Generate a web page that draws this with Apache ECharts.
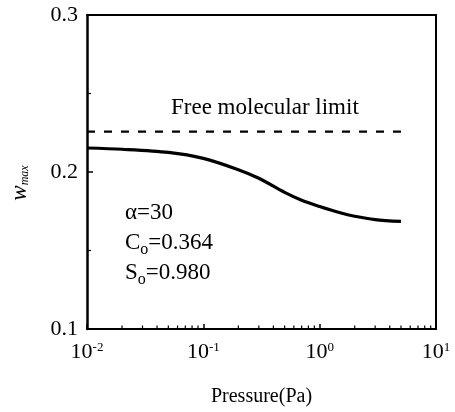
<!DOCTYPE html>
<html>
<head>
<meta charset="utf-8">
<script src="https://cdn.jsdelivr.net/npm/echarts@6/dist/echarts.min.js"></script>
<style>
  html, body { margin: 0; padding: 0; background: #fff; }
  #chart { width: 455px; height: 412px; }
</style>
</head>
<body>
<div id="chart"></div>
<script>
// Pressure (Pa) and the corresponding maximum w
const pressure = [0.01, 0.02, 0.05, 0.1, 0.2, 0.3, 0.5, 0.7, 1.0, 1.5, 2.0, 3.0, 5.0];
const wMax     = [0.2153, 0.2145, 0.2125, 0.2087, 0.2015, 0.1960, 0.1870, 0.1820, 0.1780, 0.1740, 0.1718, 0.1697, 0.1685];

// Free molecular limit (horizontal reference)
const limitPressure = [0.01, 5.0];
const limitValue    = [0.2257, 0.2257];

// Axis settings
const xMin = 0.01, xMax = 10;
const yMin = 0.1, yMax = 0.3, yStep = 0.1;
const xExponents = { '0.01': '-2', '0.1': '-1', '1': '0', '10': '1' };

// Minor log ticks (2..9 in each decade)
const minorDecades = [0.01, 0.1, 1];
const minorMultipliers = [2, 3, 4, 5, 6, 7, 8, 9];

const serif = "'Liberation Serif', 'Times New Roman', serif";

const minorTickData = [];
minorDecades.forEach(d => minorMultipliers.forEach(m => minorTickData.push([d * m, yMin])));

const chart = echarts.init(document.getElementById('chart'), null, { renderer: 'canvas' });

chart.setOption({
  animation: false,
  backgroundColor: '#fff',
  grid: { left: 81, right: 19, top: 15, bottom: 80, containLabel: false },
  xAxis: [
    {
      type: 'log',
      logBase: 10,
      min: xMin,
      max: xMax,
      position: 'bottom',
      name: 'Pressure(Pa)',
      nameLocation: 'middle',
      nameGap: 58,
      nameTextStyle: { fontFamily: serif, fontSize: 20, color: '#000' },
      axisLine: { show: true, onZero: false, lineStyle: { color: '#000', width: 2 } },
      axisTick: { show: true, inside: true, length: 5, lineStyle: { color: '#000', width: 1.5 } },
      splitLine: { show: false },
      axisLabel: {
        margin: 12,
        formatter: function (v) {
          const key = String(+v.toPrecision(3));
          return '{b|10}{s|' + (xExponents[key] || '') + '}';
        },
        rich: {
          b: { fontFamily: serif, fontSize: 22, color: '#000', lineHeight: 22 },
          s: { fontFamily: serif, fontSize: 13, color: '#000', verticalAlign: 'top', lineHeight: 12 }
        }
      }
    },
    {
      type: 'log',
      logBase: 10,
      min: xMin,
      max: xMax,
      position: 'top',
      axisLine: { show: true, onZero: false, lineStyle: { color: '#000', width: 2 } },
      axisTick: { show: false },
      axisLabel: { show: false },
      splitLine: { show: false }
    }
  ],
  yAxis: [
    {
      type: 'value',
      min: yMin,
      max: yMax,
      interval: yStep,
      position: 'left',
      name: '{w|w}{m|max}',
      nameLocation: 'middle',
      nameRotate: 90,
      nameGap: 56,
      nameTextStyle: {
        padding: [0, 22, 0, 0],
        rich: {
          w: { fontFamily: serif, fontSize: 23, fontStyle: 'italic', color: '#000', verticalAlign: 'bottom', lineHeight: 22 },
          m: { fontFamily: serif, fontSize: 12, fontStyle: 'italic', color: '#000', verticalAlign: 'bottom', lineHeight: 14 }
        }
      },
      axisLine: { show: true, onZero: false, lineStyle: { color: '#000', width: 2.5 } },
      axisTick: { show: true, inside: true, length: 6, lineStyle: { color: '#000', width: 1.5 } },
      minorTick: { show: true, splitNumber: 2, length: 4, lineStyle: { color: '#000', width: 1.2 } },
      splitLine: { show: false },
      minorSplitLine: { show: false },
      axisLabel: {
        margin: 9,
        fontFamily: serif,
        fontSize: 22,
        color: '#000',
        formatter: v => v.toFixed(1)
      }
    },
    {
      type: 'value',
      min: yMin,
      max: yMax,
      interval: yStep,
      position: 'right',
      axisLine: { show: true, onZero: false, lineStyle: { color: '#000', width: 2 } },
      axisTick: { show: false },
      axisLabel: { show: false },
      splitLine: { show: false }
    }
  ],
  series: [
    {
      name: 'w_max',
      type: 'line',
      xAxisIndex: 0,
      yAxisIndex: 0,
      data: pressure.map((p, i) => [p, wMax[i]]),
      smooth: 0.3,
      showSymbol: false,
      symbol: 'none',
      lineStyle: { color: '#000', width: 3.2 }
    },
    {
      name: 'Free molecular limit',
      type: 'line',
      xAxisIndex: 0,
      yAxisIndex: 0,
      data: limitPressure.map((p, i) => [p, limitValue[i]]),
      showSymbol: false,
      symbol: 'none',
      lineStyle: { color: '#000', width: 2.2, type: [8, 9] }
    },
    {
      name: 'minor ticks',
      type: 'custom',
      xAxisIndex: 0,
      yAxisIndex: 0,
      silent: true,
      data: minorTickData,
      renderItem: function (params, api) {
        const p = api.coord([api.value(0), api.value(1)]);
        return {
          type: 'line',
          shape: { x1: p[0], y1: p[1], x2: p[0], y2: p[1] - 3.5 },
          style: { stroke: '#000', lineWidth: 1.2 }
        };
      }
    }
  ],
  graphic: [
    {
      type: 'text',
      left: 171,
      top: 96,
      style: { text: 'Free molecular limit', fontFamily: serif, fontSize: 23, fill: '#000' }
    },
    {
      type: 'text',
      left: 125,
      top: 198,
      style: {
        text: 'α=30\nC{s|o}=0.364\nS{s|o}=0.980',
        fontFamily: serif,
        fontSize: 23,
        lineHeight: 30,
        fill: '#000',
        rich: {
          s: { fontFamily: serif, fontSize: 16, fill: '#000', verticalAlign: 'bottom', lineHeight: 22, padding: [8, 0, 0, 0] }
        }
      }
    }
  ]
});
</script>
</body>
</html>
